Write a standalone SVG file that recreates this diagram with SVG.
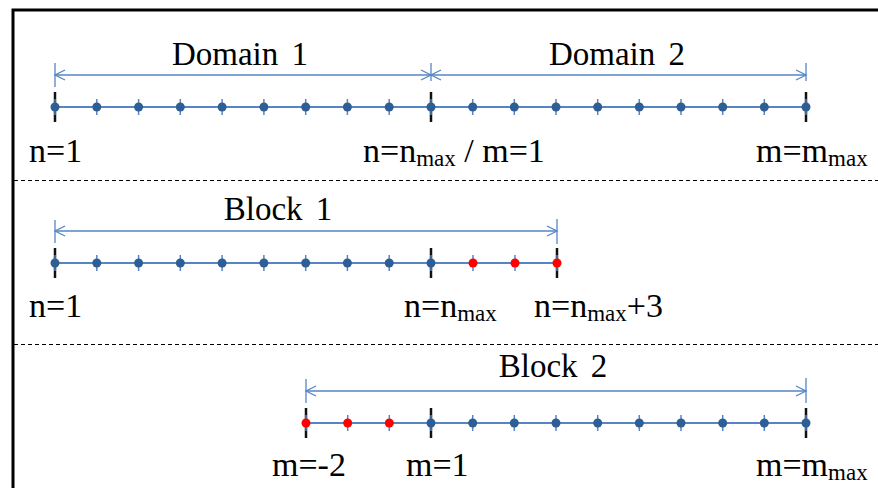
<svg xmlns="http://www.w3.org/2000/svg" width="878" height="488" viewBox="0 0 878 488">
<defs>
<style>
.axis{stroke:#5585C5;stroke-width:1.8;fill:none}
.tk{stroke:#5585C5;stroke-width:1.5}
.bk{stroke:#111;stroke-width:2.5}
.dot{fill:#2F5E95}
.red{fill:#FF0000}
.dim{stroke:#5585C5;stroke-width:1.3;fill:none}
text{font-family:'Liberation Serif','Times New Roman',serif;fill:#000}
.hdr{font-size:33px;text-anchor:middle;word-spacing:5px}
.lbl{font-size:34px}
.sub{font-size:23px}
.sep{stroke:#000;stroke-width:1;stroke-dasharray:4 3}
</style>
<marker id="ah" markerUnits="userSpaceOnUse" markerWidth="14" markerHeight="14" viewBox="-12 -7 14 14" refX="0" refY="0" orient="auto-start-reverse">
<path d="M-10,-5 L0,0 L-10,5" fill="none" stroke="#5585C5" stroke-width="1.3"/>
</marker>
<g id="t">
<line class="tk" x1="0" y1="-8" x2="0" y2="8"/>
<circle class="dot" r="4.5"/>
</g>
<g id="tr">
<line class="tk" x1="0" y1="-8" x2="0" y2="8"/>
<circle class="red" r="4.5"/>
</g>
</defs>
<rect width="878" height="488" fill="#fff"/>
<path d="M13,488 V10 H878" fill="none" stroke="#000" stroke-width="3"/>
<line class="sep" x1="14" y1="180.5" x2="878" y2="180.5"/>
<line class="sep" x1="14" y1="344.5" x2="878" y2="344.5"/>

<g id="connectors">
<line class="dim" x1="55" y1="75" x2="431" y2="75" marker-start="url(#ah)" marker-end="url(#ah)"/>
<line class="dim" x1="431" y1="75" x2="806" y2="75" marker-start="url(#ah)" marker-end="url(#ah)"/>
<line class="dim" x1="55" y1="63" x2="55" y2="87"/>
<line class="dim" x1="431" y1="63" x2="431" y2="81"/>
<line class="dim" x1="806" y1="63" x2="806" y2="81"/>
<line class="dim" x1="55" y1="231" x2="557" y2="231" marker-start="url(#ah)" marker-end="url(#ah)"/>
<line class="dim" x1="55" y1="220" x2="55" y2="243"/>
<line class="dim" x1="557" y1="219" x2="557" y2="244"/>
<line class="dim" x1="306" y1="391" x2="806" y2="391" marker-start="url(#ah)" marker-end="url(#ah)"/>
<line class="dim" x1="306" y1="379" x2="306" y2="403"/>
<line class="dim" x1="806" y1="378" x2="806" y2="403"/>
</g>

<g id="domains">
<text class="hdr" x="240" y="65">Domain 1</text>
<text class="hdr" x="617" y="65">Domain 2</text>
<line class="axis" x1="55" y1="107" x2="806" y2="107"/>
<line class="bk" x1="55" y1="92" x2="55" y2="122"/>
<line class="bk" x1="431" y1="92" x2="431" y2="122"/>
<line class="bk" x1="806" y1="92" x2="806" y2="122"/>
<g transform="translate(0,107)">
<use href="#t" x="55"/><use href="#t" x="96.8"/><use href="#t" x="138.6"/><use href="#t" x="180.3"/><use href="#t" x="222.1"/><use href="#t" x="263.9"/><use href="#t" x="305.7"/><use href="#t" x="347.4"/><use href="#t" x="389.2"/><use href="#t" x="431"/>
<use href="#t" x="472.7"/><use href="#t" x="514.3"/><use href="#t" x="556"/><use href="#t" x="597.7"/><use href="#t" x="639.3"/><use href="#t" x="681"/><use href="#t" x="722.7"/><use href="#t" x="764.3"/><use href="#t" x="806"/>
</g>
<text class="lbl" x="29" y="162">n=1</text>
<text class="lbl" x="363" y="162">n=n<tspan class="sub" dy="4">max</tspan><tspan dy="-4"> / m=1</tspan></text>
<text class="lbl" x="756" y="162">m=m<tspan class="sub" dy="4">max</tspan></text>
</g>

<g id="block1">
<text class="hdr" x="278" y="220">Block 1</text>
<line class="axis" x1="55" y1="263" x2="557" y2="263"/>
<line class="bk" x1="55" y1="248" x2="55" y2="278"/>
<line class="bk" x1="431" y1="248" x2="431" y2="278"/>
<line class="bk" x1="557" y1="248" x2="557" y2="278"/>
<g transform="translate(0,263)">
<use href="#t" x="55"/><use href="#t" x="96.8"/><use href="#t" x="138.6"/><use href="#t" x="180.3"/><use href="#t" x="222.1"/><use href="#t" x="263.9"/><use href="#t" x="305.7"/><use href="#t" x="347.4"/><use href="#t" x="389.2"/><use href="#t" x="431"/>
<use href="#tr" x="473"/><use href="#tr" x="515"/><use href="#tr" x="557"/>
</g>
<text class="lbl" x="29" y="317">n=1</text>
<text class="lbl" x="404" y="317">n=n<tspan class="sub" dy="4">max</tspan></text>
<text class="lbl" x="534" y="317">n=n<tspan class="sub" dy="4">max</tspan><tspan dy="-4">+3</tspan></text>
</g>

<g id="block2">
<text class="hdr" x="553" y="377">Block 2</text>
<line class="axis" x1="306" y1="423" x2="806" y2="423"/>
<line class="bk" x1="306" y1="408" x2="306" y2="438"/>
<line class="bk" x1="431" y1="408" x2="431" y2="438"/>
<line class="bk" x1="806" y1="408" x2="806" y2="438"/>
<g transform="translate(0,423)">
<use href="#tr" x="306"/><use href="#tr" x="347.7"/><use href="#tr" x="389.3"/>
<use href="#t" x="431"/><use href="#t" x="472.7"/><use href="#t" x="514.3"/><use href="#t" x="556"/><use href="#t" x="597.7"/><use href="#t" x="639.3"/><use href="#t" x="681"/><use href="#t" x="722.7"/><use href="#t" x="764.3"/><use href="#t" x="806"/>
</g>
<text class="lbl" x="272" y="476">m=-2</text>
<text class="lbl" x="406" y="476">m=1</text>
<text class="lbl" x="756" y="476">m=m<tspan class="sub" dy="4">max</tspan></text>
</g>
</svg>
